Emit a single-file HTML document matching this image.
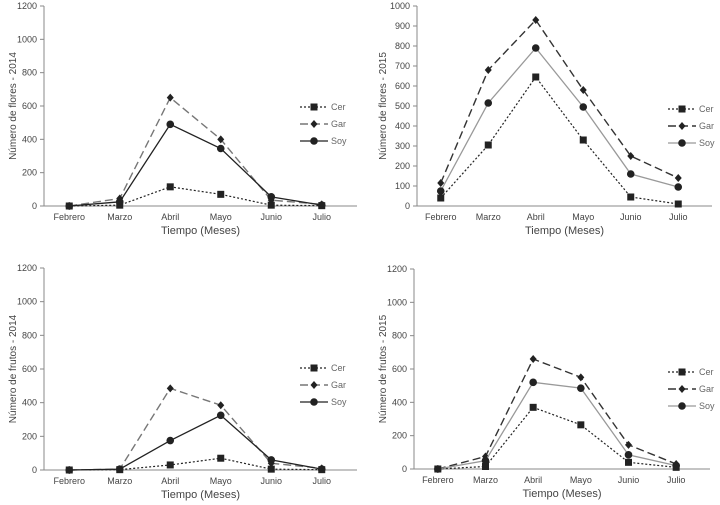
<!DOCTYPE html>
<html><head><meta charset="utf-8"><style>
body{margin:0;background:#fff;}
svg{display:block;font-family:"Liberation Sans",sans-serif;}
</style></head><body>
<svg id="c" width="720" height="505" viewBox="0 0 720 505"></svg>
<script>
const months=["Febrero","Marzo","Abril","Mayo","Junio","Julio"];
const flores2014Cer=[0,5,115,70,5,2];
const flores2014Gar=[0,45,650,400,35,10];
const flores2014Soy=[0,25,490,345,55,5];
const flores2015Cer=[40,305,645,330,45,10];
const flores2015Gar=[115,680,930,580,250,140];
const flores2015Soy=[75,515,790,495,160,95];
const frutos2014Cer=[0,2,30,70,5,2];
const frutos2014Gar=[0,5,485,385,40,10];
const frutos2014Soy=[0,5,175,325,60,5];
const frutos2015Cer=[0,15,370,265,40,10];
const frutos2015Gar=[0,75,660,550,145,30];
const frutos2015Soy=[0,50,520,485,85,20];
const ticks1200=[0,200,400,600,800,1000,1200];
const ticks1000=[0,100,200,300,400,500,600,700,800,900,1000];
const NS="http://www.w3.org/2000/svg";
const svg=document.getElementById('c');
function mk(tag,attrs,parent,text){const e=document.createElementNS(NS,tag);for(const k in attrs)e.setAttribute(k,attrs[k]);if(text!==undefined)e.textContent=text;(parent||svg).appendChild(e);return e;}
const panels=[
 {id:'flores-2014',x0:44,x1:357,yb:206,yt:6,max:1200,ticks:ticks1200,title:'Número de flores - 2014',tx:12,legY:107,legX:300,dark:true,series:[flores2014Cer,flores2014Gar,flores2014Soy]},
 {id:'flores-2015',x0:417,x1:712,yb:206,yt:6,max:1000,ticks:ticks1000,title:'Número de flores - 2015',tx:382,legY:109,legX:668,dark:false,series:[flores2015Cer,flores2015Gar,flores2015Soy]},
 {id:'frutos-2014',x0:44,x1:357,yb:470,yt:268,max:1200,ticks:ticks1200,title:'Número de frutos - 2014',tx:12,legY:368,legX:300,dark:true,series:[frutos2014Cer,frutos2014Gar,frutos2014Soy]},
 {id:'frutos-2015',x0:414,x1:710,yb:469,yt:269,max:1200,ticks:ticks1200,title:'Número de frutos - 2015',tx:382,legY:372,legX:668,dark:false,series:[frutos2015Cer,frutos2015Gar,frutos2015Soy]}
];
const names=["Cer","Gar","Soy"];
panels.forEach(p=>{
 const g=mk('g',{});
 
 
 const step=(p.x1-p.x0-10)/months.length;
 const xs=i=>p.x0+step*(i+0.5);
 const ys=v=>p.yb-(v/p.max)*(p.yb-p.yt);
 const ax=mk('line',{x1:p.x0,y1:p.yt,x2:p.x0,y2:p.yb,stroke:'#888','stroke-width':1},g);
 
 const bx=mk('line',{x1:p.x0,y1:p.yb,x2:p.x1,y2:p.yb,stroke:'#888','stroke-width':1},g);
 
 p.ticks.forEach(t=>{
  mk('line',{x1:p.x0-4,y1:ys(t),x2:p.x0,y2:ys(t),stroke:'#888'},g);
  const l=mk('text',{x:p.x0-7,y:ys(t)+3,'text-anchor':'end','font-size':9,fill:'#444'},g,String(t));
  
 });
 months.forEach((m,i)=>{
  const l=mk('text',{x:xs(i),y:p.yb+14,'text-anchor':'middle','font-size':9,fill:'#444'},g,m);
  
 });
 const xt=mk('text',{x:(p.x0+p.x1)/2,y:p.yb+28,'text-anchor':'middle','font-size':11,fill:'#444'},g,'Tiempo (Meses)');
 
 const yc=(p.yb+p.yt)/2;
 const yt=mk('text',{x:p.tx,y:yc,'text-anchor':'middle','font-size':10,fill:'#444',transform:`rotate(-90 ${p.tx} ${yc})`,dy:4},g,p.title);
 
 const styles=[
  {stroke:'#222',dash:'2,2',w:1.2,mk:'sq'},
  {stroke:p.dark?'#777':'#333',dash:'8,4',w:1.4,mk:'di'},
  {stroke:p.dark?'#222':'#999',dash:'',w:1.3,mk:'ci'}
 ];
 function marker(type,x,y,par){
  if(type==='sq')return mk('rect',{x:x-3.5,y:y-3.5,width:7,height:7,fill:'#222'},par);
  if(type==='di')return mk('path',{d:`M${x} ${y-4}L${x+3.5} ${y}L${x} ${y+4}L${x-3.5} ${y}Z`,fill:'#222'},par);
  return mk('circle',{cx:x,cy:y,r:3.8,fill:'#222'},par);
 }
 p.series.forEach((s,k)=>{
  const st=styles[k];
  const sg=mk('g',{},g);
  
  
  const pts=s.map((v,i)=>xs(i)+','+ys(v)).join(' ');
  mk('polyline',{points:pts,fill:'none',stroke:st.stroke,'stroke-width':st.w,'stroke-dasharray':st.dash},sg);
  s.forEach((v,i)=>{const m=marker(st.mk,xs(i),ys(v),sg);});
  const lg=mk('g',{},g);
  
  
  const ly=p.legY+k*17;
  mk('line',{x1:p.legX,y1:ly,x2:p.legX+28,y2:ly,stroke:st.stroke,'stroke-width':st.w,'stroke-dasharray':st.dash},lg);
  marker(st.mk,p.legX+14,ly,lg);
  mk('text',{x:p.legX+31,y:ly+3,'font-size':9,fill:'#666'},lg,names[k]);
 });
});
</script>
</body></html>
